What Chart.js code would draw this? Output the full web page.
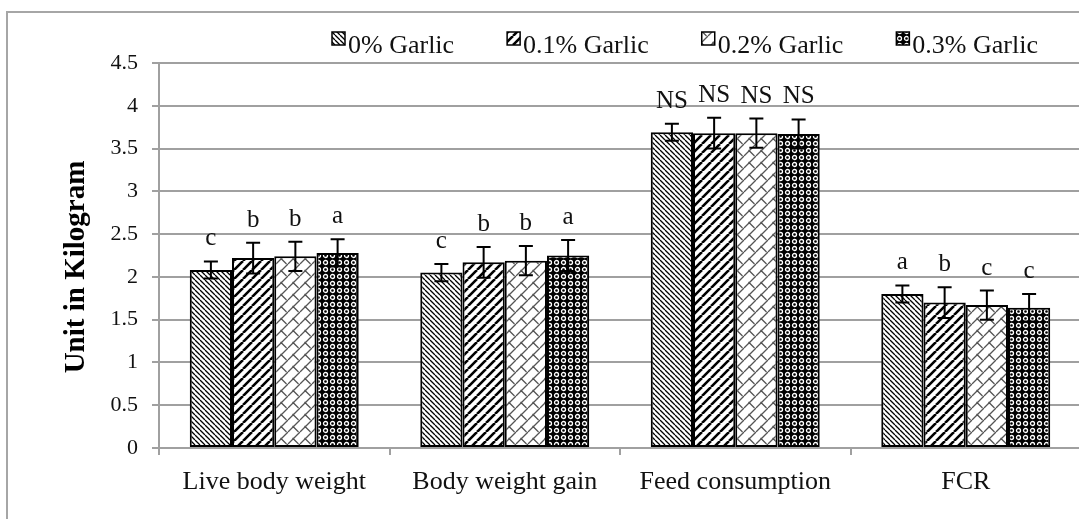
<!DOCTYPE html>
<html>
<head>
<meta charset="utf-8">
<script src="https://cdn.jsdelivr.net/npm/chart.js@4"></script>
<style>
body { margin: 0; background: #fff; overflow: hidden; }
#frame { position: absolute; left: 6px; top: 11px; width: 1200px; height: 600px; border-left: 2px solid #a6a6a6; border-top: 2px solid #a6a6a6; }
#wrap { position: absolute; left: 0; top: 0; width: 1081px; height: 519px; }
</style>
</head>
<body>
<div id="frame"></div>
<div id="wrap"><canvas id="chart" width="1081" height="519"></canvas></div>
<script>
// categories and series
const categories = ['Live body weight', 'Body weight gain', 'Feed consumption', 'FCR'];
const seriesNames = ['0% Garlic', '0.1% Garlic', '0.2% Garlic', '0.3% Garlic'];

// means (kg)
const garlic0 = [2.08, 2.05, 3.69, 1.80];
const garlic01 = [2.22, 2.17, 3.68, 1.70];
const garlic02 = [2.24, 2.19, 3.68, 1.67];
const garlic03 = [2.28, 2.25, 3.67, 1.64];

// standard errors
const err0 = [0.10, 0.10, 0.10, 0.10];
const err01 = [0.18, 0.18, 0.18, 0.18];
const err02 = [0.17, 0.17, 0.17, 0.17];
const err03 = [0.16, 0.18, 0.17, 0.16];

// significance letters
const letters0 = ['c', 'c', 'NS', 'a'];
const letters01 = ['b', 'b', 'NS', 'b'];
const letters02 = ['b', 'b', 'NS', 'c'];
const letters03 = ['a', 'a', 'NS', 'c'];

// y axis ticks
const yMin = 0, yMax = 4.5, yStep = 0.5;
const yTitle = 'Unit in Kilogram';

const FONT = '"Liberation Serif", "Times New Roman", serif';

// 패턴 만들기
function makePattern(kind) {
    const c = document.createElement('canvas');
    const x = c.getContext('2d');
    let s;
    if (kind === 0) {
        s = 5; c.width = s; c.height = s;
        x.fillStyle = '#fff'; x.fillRect(0, 0, s, s);
        x.strokeStyle = '#000'; x.lineWidth = 1.3;
        x.beginPath();
        for (let k = -1; k <= 1; k++) { x.moveTo(k * s, 0); x.lineTo(k * s + s, s); }
        x.stroke();
    } else if (kind === 1) {
        s = 9; c.width = s; c.height = s;
        x.fillStyle = '#fff'; x.fillRect(0, 0, s, s);
        x.strokeStyle = '#000'; x.lineWidth = 2.6;
        x.beginPath();
        for (let k = -1; k <= 1; k++) { x.moveTo(k * s, s); x.lineTo(k * s + s, 0); }
        x.stroke();
    } else if (kind === 2) {
        s = 12; c.width = s; c.height = s;
        x.fillStyle = '#fff'; x.fillRect(0, 0, s, s);
        x.strokeStyle = '#555'; x.lineWidth = 1.3;
        x.beginPath();
        for (let k = -1; k <= 1; k++) {
            x.moveTo(k * s, s); x.lineTo(k * s + s, 0);
            x.moveTo(k * s + 4.5, 6); x.lineTo(k * s + 10.5, 12);
            x.moveTo(k * s + 4.5, 6 - s); x.lineTo(k * s + 10.5, 0);
        }
        x.stroke();
    } else {
        s = 7; c.width = s; c.height = s;
        x.fillStyle = '#000'; x.fillRect(0, 0, s, s);
        x.strokeStyle = '#fff'; x.lineWidth = 1.3;
        x.beginPath(); x.arc(3.5, 3.5, 2.0, 0, Math.PI * 2); x.stroke();
    }
    return document.getElementById('chart').getContext('2d').createPattern(c, 'repeat');
}

const seriesData = [garlic0, garlic01, garlic02, garlic03];
const seriesErr = [err0, err01, err02, err03];
const seriesLetters = [letters0, letters01, letters02, letters03];

const datasets = seriesNames.map((name, i) => ({
    label: name,
    data: seriesData[i],
    errors: seriesErr[i],
    letters: seriesLetters[i],
    backgroundColor: makePattern(i),
    borderColor: '#000',
    borderWidth: 2,
    borderSkipped: false
}));

// 오차 막대 + 문자
const errorBarPlugin = {
    id: 'errorBars',
    afterDatasetsDraw(chart) {
        const ctx = chart.ctx;
        const y = chart.scales.y;
        chart.data.datasets.forEach((ds, i) => {
            const meta = chart.getDatasetMeta(i);
            meta.data.forEach((bar, j) => {
                const v = ds.data[j], e = ds.errors[j];
                const top = y.getPixelForValue(v + e);
                const bot = y.getPixelForValue(v - e);
                ctx.save();
                ctx.strokeStyle = '#000';
                ctx.lineWidth = 2;
                ctx.beginPath();
                ctx.moveTo(bar.x, top); ctx.lineTo(bar.x, bot);
                ctx.moveTo(bar.x - 7, top); ctx.lineTo(bar.x + 7, top);
                ctx.moveTo(bar.x - 7, bot); ctx.lineTo(bar.x + 7, bot);
                ctx.stroke();
                ctx.font = '25px ' + FONT;
                ctx.textAlign = 'center';
                ctx.textBaseline = 'alphabetic';
                ctx.fillStyle = '#111';
                ctx.fillText(ds.letters[j], bar.x, top - 16);
                ctx.restore();
            });
        });
    }
};

// 범례 + 축 제목
const legendPlugin = {
    id: 'patternLegend',
    afterDraw(chart) {
        const ctx = chart.ctx;
        ctx.save();
        ctx.font = '26px ' + FONT;
        ctx.textBaseline = 'alphabetic';
        ctx.textAlign = 'left';
        let x = 332;
        chart.data.datasets.forEach(ds => {
            ctx.fillStyle = ds.backgroundColor;
            ctx.fillRect(x, 32, 13, 13);
            ctx.strokeStyle = '#000';
            ctx.lineWidth = 1.5;
            ctx.strokeRect(x, 32, 13, 13);
            ctx.fillStyle = '#111';
            ctx.fillText(ds.label, x + 16, 53);
            x += 16 + ctx.measureText(ds.label).width + 53;
        });
        ctx.restore();

        // y축 제목
        ctx.save();
        ctx.translate(77, 267);
        ctx.rotate(-Math.PI / 2);
        ctx.font = 'bold 29px ' + FONT;
        ctx.textAlign = 'center';
        ctx.textBaseline = 'middle';
        ctx.fillStyle = '#000';
        ctx.fillText(yTitle, 0, 0);
        ctx.restore();
    }
};

const ctx = document.getElementById('chart').getContext('2d');
new Chart(ctx, {
    type: 'bar',
    data: { labels: categories, datasets: datasets },
    options: {
        responsive: false,
        animation: false,
        layout: { padding: { top: 63, left: 0, right: 0, bottom: 0 } },
        datasets: { bar: { categoryPercentage: 0.733, barPercentage: 1 } },
        plugins: {
            legend: { display: false },
            tooltip: { enabled: false }
        },
        scales: {
            x: {
                offset: true,
                grid: { drawOnChartArea: false, drawTicks: true, tickLength: 7, color: '#a0a0a0', lineWidth: 2 },
                border: { color: '#a0a0a0', width: 2 },
                ticks: { color: '#111', font: { family: FONT, size: 26 }, padding: 12, maxRotation: 0 },
                afterFit: s => { s.height = 71; }
            },
            y: {
                min: yMin,
                max: yMax,
                ticks: {
                    stepSize: yStep,
                    color: '#111',
                    font: { family: FONT, size: 22 },
                    padding: 14,
                    callback: v => String(+v.toFixed(1))
                },
                grid: { color: '#a0a0a0', lineWidth: 2, tickLength: 7 },
                border: { color: '#a0a0a0', width: 2 },
                afterFit: s => { s.width = 159; }
            }
        }
    },
    plugins: [errorBarPlugin, legendPlugin]
});
</script>
</body>
</html>
